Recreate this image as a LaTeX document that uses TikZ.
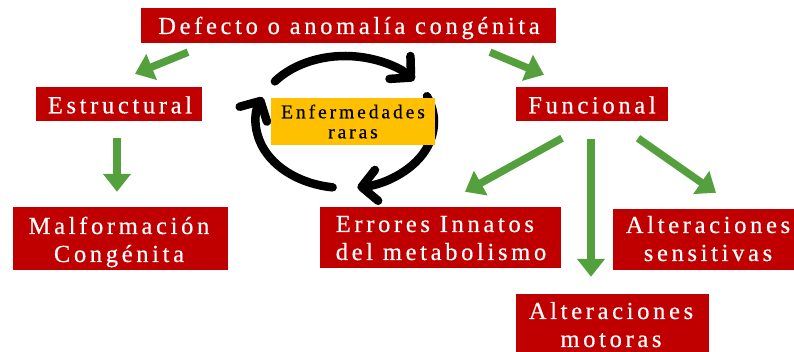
\documentclass[tikz,border=0pt]{standalone}
\usepackage{fontspec}
\setmainfont{Liberation Serif}[LetterSpace=15, FakeBold=0.5]
\usetikzlibrary{arrows.meta}
\definecolor{boxred}{HTML}{C00000}
\definecolor{arrgreen}{HTML}{54A03C}
\definecolor{raroyellow}{HTML}{FFC000}
\begin{document}
\begin{tikzpicture}[x=1pt,y=1pt,
  redbox/.style={fill=boxred, draw=none, inner sep=0pt},
  yelbox/.style={fill=raroyellow, draw=none, inner sep=0pt},
  wtxt/.style={text=white, inner sep=0pt, anchor=base, font=\fontsize{24.5}{28}\selectfont},
  btxt/.style={text=black, inner sep=0pt, anchor=base, font=\fontsize{19.5}{20}\selectfont},
  garrow/.style={draw=arrgreen, line width=7.5pt, -{Triangle[length=18pt,width=27pt]}},
  cyc/.style={draw=black, line width=8.5pt, line cap=round, -{Straight Barb[length=15pt,width=31pt,round]}}
]
\useasboundingbox (0,0) rectangle (794,352);
\clip (0,0) rectangle (794,352);

% boxes
\node[redbox, minimum width=415pt, minimum height=35pt] (top) at (348.5,326.5) {};
\node[redbox, minimum width=166pt, minimum height=34pt] (estr) at (119,248) {};
\node[redbox, minimum width=152pt, minimum height=34pt] (func) at (592,248) {};
\node[redbox, minimum width=215pt, minimum height=63pt] (malf) at (120.5,113.5) {};
\node[redbox, minimum width=241pt, minimum height=61pt] (err) at (440.5,114.5) {};
\node[redbox, minimum width=188pt, minimum height=61pt] (sens) at (707,112.5) {};
\node[redbox, minimum width=193pt, minimum height=61pt] (mot) at (612.5,27.5) {};

% texts
\node[wtxt] (topT) at (349,318) {Defecto o anomalía congénita};
\node[wtxt] (estrT) at (120,238.7) {Estructural};
\node[wtxt] (funcT) at (592,238.7) {Funcional};
\node[wtxt] (malfT) at (119,90) {\begin{tabular}[b]{@{}c@{}}Malformación\\Congénita\end{tabular}};
\node[wtxt] (errT) at (441,92) {\begin{tabular}[b]{@{}l@{}}Errores Innatos\\del metabolismo\end{tabular}};
\node[wtxt] (sensT) at (708,91) {\begin{tabular}[b]{@{}c@{}}Alteraciones\\sensitivas\end{tabular}};
\node[wtxt] (motT) at (611,5) {\begin{tabular}[b]{@{}c@{}}Alteraciones\\motoras\end{tabular}};

% cycle arrows
\coordinate (cc) at (345,230);
\draw[cyc] ([shift={(142:89 and 66)}]cc) arc[start angle=142, end angle=39, x radius=89, y radius=66];
\draw[cyc] ([shift={(23:89 and 66)}]cc) arc[start angle=23, end angle=-82, x radius=89, y radius=66];
\draw[cyc] ([shift={(262:89 and 66)}]cc) arc[start angle=262, end angle=158, x radius=89, y radius=66];

% rare diseases box
\node[yelbox, minimum width=164pt, minimum height=47pt] (rare) at (353,230.5) {};
\node[btxt] (rareT) at (353,213.7) {\begin{tabular}[b]{@{}c@{}}Enfermedades\\raras\end{tabular}};

% green arrows
\draw[garrow] ([shift={(-160.5,-9)}]top.south) -- ([shift={(16,13)}]estr.north);
\draw[garrow] ([shift={(141.5,-9)}]top.south) -- ([shift={(-48,12)}]func.north);
\draw[garrow] ([shift={(-2,-17)}]estr.south) -- ([shift={(-3.5,15)}]malf.north);
\draw[garrow] ([shift={(-30,-17)}]func.south) -- ([shift={(24.5,15)}]err.north);
\draw[garrow] ([shift={(-1,-18)}]func.south) -- ([shift={(-21.5,17)}]mot.north);
\draw[garrow] ([shift={(46,-17)}]func.south) -- ([shift={(9,16)}]sens.north);
\end{tikzpicture}
\end{document}
